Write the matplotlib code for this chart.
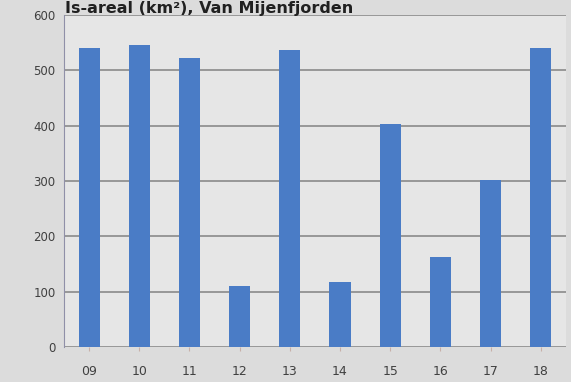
import matplotlib.pyplot as plt

years = ["09", "10", "11", "12", "13", "14", "15", "16", "17", "18"]
area = [541, 546, 523, 110, 537, 118, 403, 163, 302, 541]
yticks = [0, 100, 200, 300, 400, 500, 600]

fig = plt.figure(figsize=(5.71, 3.82), dpi=100)
fig.patch.set_facecolor("#dcdcdc")
ax = fig.add_axes([0.112, 0.0916, 0.879, 0.869])
ax.set_facecolor("#e6e6e6")

x = range(len(years))
ax.bar(x, area, width=0.42, color="#4a7cc6", zorder=3)

ax.set_xlim(-0.5, len(years) - 0.5)
ax.set_ylim(0, 600)
ax.set_yticks(yticks)
ax.set_xticks(list(x))
ax.set_xticklabels(years)
ax.yaxis.grid(True, color="#8a8a8a", linewidth=1.2, zorder=1)

for side in ["top", "right", "bottom"]:
    ax.spines[side].set_visible(False)
ax.spines["left"].set_color("#9090a8")
ax.tick_params(axis="y", length=0, labelsize=8.5, labelcolor="#404040", pad=6)
ax.tick_params(axis="x", length=3, color="#c8b0a8", labelsize=9, labelcolor="#404040", pad=10)

# title sits in the thin strip above the plot
fig.text(0.114, 0.965, "Is-areal (km²), Van Mijenfjorden", fontsize=11.5,
         fontweight="bold", color="#202020", va="baseline", ha="left")

plt.savefig("out.png", dpi=100, facecolor=fig.get_facecolor())
